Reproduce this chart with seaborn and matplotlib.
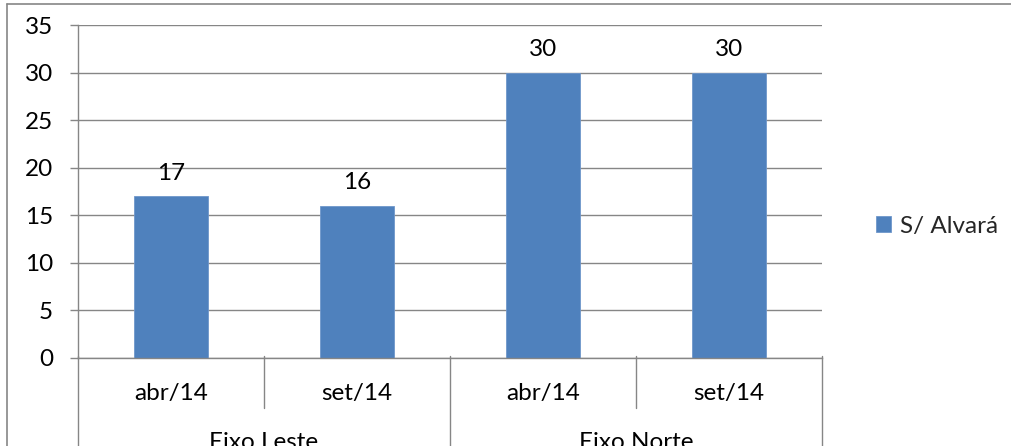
import matplotlib
matplotlib.use("Agg")
import matplotlib.pyplot as plt
from matplotlib.lines import Line2D
import seaborn as sns
import pandas as pd

# Data
eixos = ["Eixo Leste", "Eixo Norte"]
periodos = ["abr/14", "set/14"]
serie = "S/ Alvará"
valores = [17, 16, 30, 30]

sns.set_theme(style="white")
plt.rcParams["font.family"] = ["Lato", "DejaVu Sans"]

GRAY = "#868686"
BLUE = "#4F81BD"
FS = 17.5

rows = []
for i, e in enumerate(eixos):
    for j, p in enumerate(periodos):
        rows.append({"categoria": f"{e}\n{p}", "eixo": e, "periodo": p,
                     "valor": valores[i * len(periodos) + j], "serie": serie})
df = pd.DataFrame(rows)

W, H = 1011, 446
fig = plt.figure(figsize=(W / 100, H / 100), dpi=100)
ax_left, ax_right, ax_top, ax_bottom = 78, 822, 25, 358
ax = fig.add_axes([ax_left / W, (H - ax_bottom) / H,
                   (ax_right - ax_left) / W, (ax_bottom - ax_top) / H])

sns.barplot(data=df, x="categoria", y="valor", hue="serie",
            palette=[BLUE], saturation=1, width=0.40, ax=ax, legend=True,
            edgecolor="#6F97CB", linewidth=0.6)

ax.set_ylim(0, 35)
ax.set_xlim(-0.5, len(df) - 0.5)
ax.set_yticks(range(0, 36, 5))
ax.yaxis.grid(True, color=GRAY, linewidth=1.0)
ax.set_axisbelow(True)
ax.set_xlabel("")
ax.set_ylabel("")
ax.set_xticks([])

for side in ["top", "right"]:
    ax.spines[side].set_visible(False)
for side in ["left", "bottom"]:
    ax.spines[side].set_color(GRAY)
    ax.spines[side].set_linewidth(1.0)

ax.tick_params(axis="y", direction="out", length=6, width=1.0, color=GRAY,
               pad=12, labelsize=FS, labelcolor="black", left=True)

# Value labels above each bar
for cont in ax.containers:
    ax.bar_label(cont, labels=[f"{v:g}" for v in cont.datavalues],
                 padding=9, fontsize=FS, color="black")

# Multi-level category axis
ax_h = ax_bottom - ax_top
def ay(px):
    return (ax_bottom - px) / ax_h

trans = ax.get_xaxis_transform()
for k, p in enumerate(df["periodo"]):
    ax.text(k, ay(400), p, transform=trans, ha="center", va="baseline",
            fontsize=FS, color="black", clip_on=False)
n_per = len(periodos)
for i, e in enumerate(eixos):
    xc = i * n_per + (n_per - 1) / 2
    ax.text(xc, ay(449), e, transform=trans, ha="center", va="baseline",
            fontsize=FS, color="black", clip_on=False)

for k in range(len(df) + 1):
    x = k - 0.5
    group_edge = (k % n_per == 0)
    y_end = ay(460) if group_edge else ay(408)
    ax.add_line(Line2D([x, x], [ay(356), y_end], transform=trans,
                       color=GRAY, linewidth=1.0, clip_on=False))

# Legend on the right
handles, labels = ax.get_legend_handles_labels()
ax.legend(handles, labels, loc="center left",
          bbox_to_anchor=(876 / W, (H - 226) / H),
          bbox_transform=fig.transFigure, frameon=False, fontsize=FS,
          handlelength=0.62, handleheight=0.62, handletextpad=0.35,
          borderpad=0, borderaxespad=0)

# Chart frame
fig.add_artist(Line2D([7 / W, 7 / W], [0, (H - 4) / H], color=GRAY,
                      linewidth=1.2, transform=fig.transFigure))
fig.add_artist(Line2D([7 / W, 1], [(H - 4) / H, (H - 4) / H], color=GRAY,
                      linewidth=1.2, transform=fig.transFigure))

fig.savefig("out.png", dpi=100)
